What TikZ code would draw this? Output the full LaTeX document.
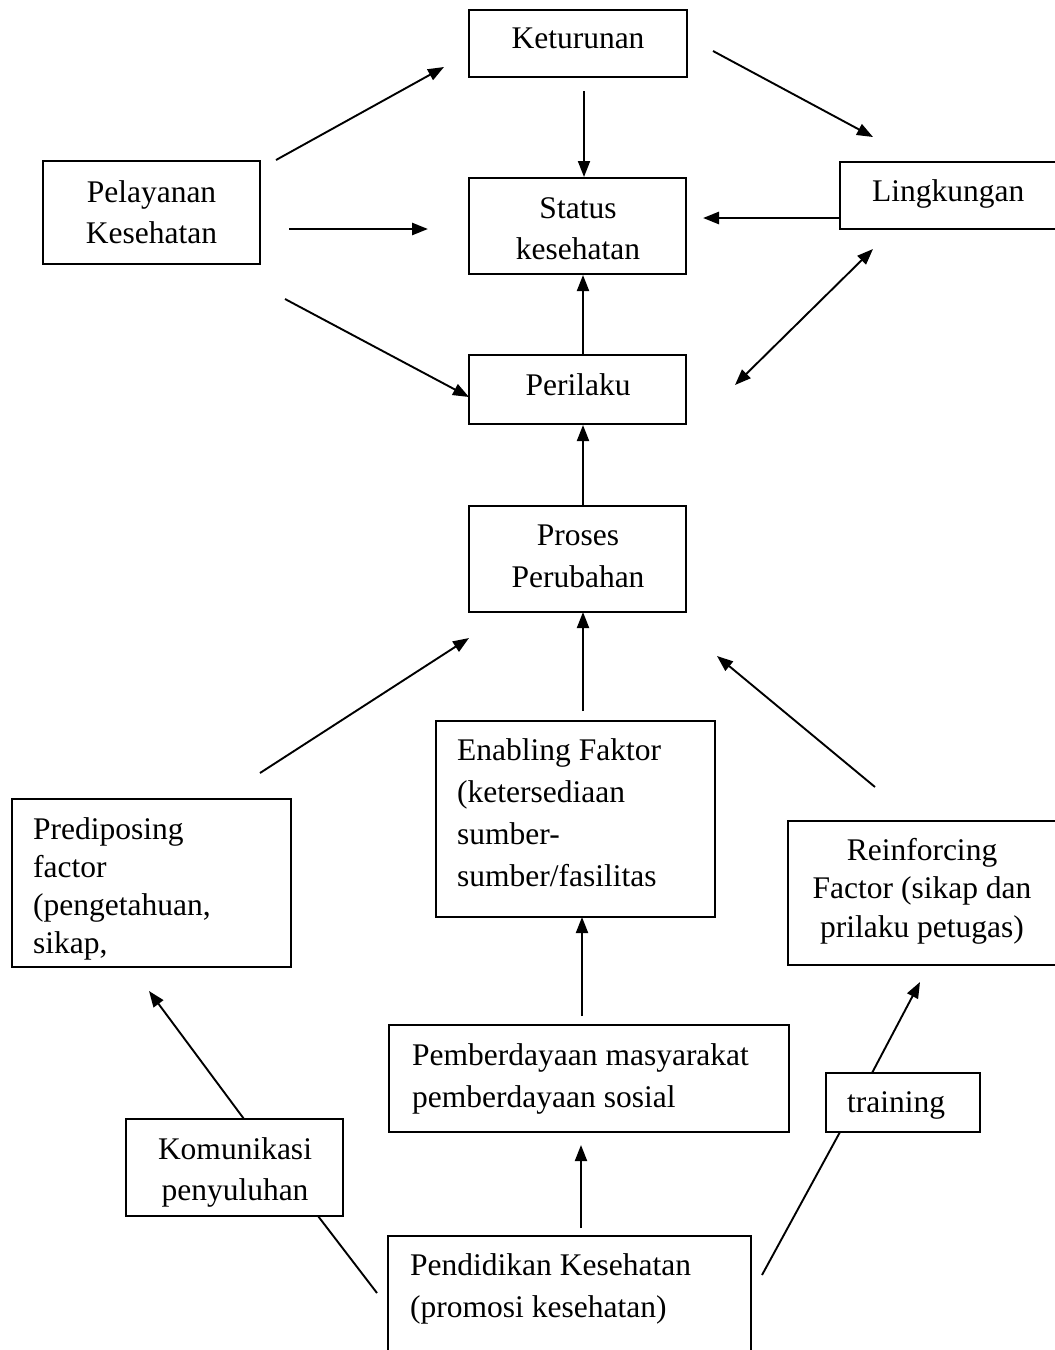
\documentclass[tikz,border=0pt]{standalone}
\usepackage{fontspec}
\setmainfont{Liberation Serif}
\usetikzlibrary{arrows.meta}
\begin{document}
\begin{tikzpicture}[x=1pt,y=-1pt,
  box/.style={draw, line width=1.5pt, inner sep=0pt, outer sep=0pt},
  txt/.style={inner sep=0pt, font=\fontsize{31.5}{41}\selectfont},
  txtb/.style={inner sep=0pt, font=\fontsize{31.5}{38}\selectfont},
  arr/.style={line width=1.9pt, -{Triangle[length=16pt,width=12pt]}},
  arrt/.style={line width=2.6pt, -{Triangle[length=16pt,width=12pt]}},
  dbl/.style={line width=1.9pt, {Triangle[length=16pt,width=12pt]}-{Triangle[length=16pt,width=12pt]}},
  ln/.style={line width=1.9pt}]
\useasboundingbox (0,0) rectangle (1055,1350);
% boxes
\node[box, minimum width=218pt, minimum height=67pt] (ket) at (578,43.5) {};
\node[box, minimum width=217pt, minimum height=103pt] (pel) at (151.5,212.5) {};
\node[box, minimum width=217pt, minimum height=96pt] (sta) at (577.5,226) {};
\node[box, minimum width=230pt, minimum height=67pt] (lin) at (955,195.5) {};
\node[box, minimum width=217pt, minimum height=69pt] (per) at (577.5,389.5) {};
\node[box, minimum width=217pt, minimum height=106pt] (pro) at (577.5,559) {};
\node[box, minimum width=279pt, minimum height=196pt] (ena) at (575.5,819) {};
\node[box, minimum width=279pt, minimum height=168pt] (pre) at (151.5,883) {};
\node[box, minimum width=282pt, minimum height=144pt] (rei) at (929,893) {};
\node[box, minimum width=400pt, minimum height=107pt] (pem) at (589,1078.5) {};
\node[box, minimum width=154pt, minimum height=59pt] (tra) at (903,1102.5) {};
\node[box, minimum width=217pt, minimum height=97pt] (kom) at (234.5,1167.5) {};
\node[box, minimum width=363pt, minimum height=134pt] (pen) at (569.5,1303) {};
% texts (anchor=base is the baseline of the last line)
\node[txt, anchor=base] (tket) at (578,48) {Keturunan};
\node[txt, anchor=base, align=center] (tpel) at (151.5,243) {Pelayanan\\Kesehatan};
\node[txt, anchor=base, align=center] (tsta) at (578,259) {Status\\kesehatan};
\node[txt, anchor=base west] (tlin) at (872,201) {Lingkungan};
\node[txt, anchor=base] (tper) at (578,395) {Perilaku};
\node[txt, anchor=base, align=center, font=\fontsize{31.5}{42}\selectfont] (tpro) at (578,587) {Proses\\Perubahan};
\node[txt, anchor=base west, align=left, font=\fontsize{31.5}{42}\selectfont] (tena) at (457,886) {Enabling Faktor\\(ketersediaan\\sumber-\\sumber/fasilitas};
\node[txtb, anchor=base west, align=left, font=\fontsize{31.5}{37.7}\selectfont] (tpre) at (33,953) {Prediposing\\factor\\(pengetahuan,\\sikap,};
\node[txtb, anchor=base, align=center, font=\fontsize{31.5}{38.5}\selectfont] (trei) at (922,937) {Reinforcing\\Factor (sikap dan\\prilaku petugas)};
\node[txt, anchor=base west, align=left, font=\fontsize{31.5}{42}\selectfont] (tpem) at (412,1107) {Pemberdayaan masyarakat\\pemberdayaan sosial};
\node[txt, anchor=base] (ttra) at (896,1112) {training};
\node[txt, anchor=base, align=center] (tkom) at (235,1200) {Komunikasi\\penyuluhan};
\node[txt, anchor=base west, align=left, font=\fontsize{31.5}{42}\selectfont] (tpen) at (410,1317) {Pendidikan Kesehatan\\(promosi kesehatan)};
% connector ends
\coordinate (a1s) at (276,160); \coordinate (a1e) at (444,67);
\coordinate (a2s) at (584,91);  \coordinate (a2e) at (584,177);
\coordinate (a3s) at (713,51);  \coordinate (a3e) at (873,137);
\coordinate (a4s) at (289,229); \coordinate (a4e) at (428,229);
\coordinate (a5s) at (840,218); \coordinate (a5e) at (703,218);
\coordinate (a6s) at (583,355); \coordinate (a6e) at (583,275);
\coordinate (a7s) at (285,299); \coordinate (a7e) at (469,397);
\coordinate (a8s) at (873,249); \coordinate (a8e) at (735,385);
\coordinate (a9s) at (583,506); \coordinate (a9e) at (583,425);
\coordinate (b1s) at (583,711); \coordinate (b1e) at (583,612);
\coordinate (b2s) at (260,773); \coordinate (b2e) at (469,638);
\coordinate (b3s) at (875,787); \coordinate (b3e) at (717,656);
\coordinate (b4s) at (244,1119); \coordinate (b4e) at (149,991);
\coordinate (b5s) at (582,1016); \coordinate (b5e) at (582,917);
\coordinate (b6s) at (581,1228); \coordinate (b6e) at (581,1145);
\coordinate (b7s) at (872,1073); \coordinate (b7e) at (920,982);
\coordinate (c1s) at (318,1216); \coordinate (c1e) at (377,1293);
\coordinate (c2s) at (840,1132); \coordinate (c2e) at (762,1275);
% connectors
\draw[arr] (a1s) -- (a1e);
\draw[arr] (a2s) -- (a2e);
\draw[arr] (a3s) -- (a3e);
\draw[arrt] (a4s) -- (a4e);
\draw[arrt] (a5s) -- (a5e);
\draw[arr] (a6s) -- (a6e);
\draw[arr] (a7s) -- (a7e);
\draw[dbl] (a8s) -- (a8e);
\draw[arr] (a9s) -- (a9e);
\draw[arr] (b1s) -- (b1e);
\draw[arr] (b2s) -- (b2e);
\draw[arr] (b3s) -- (b3e);
\draw[arr] (b4s) -- (b4e);
\draw[arr] (b5s) -- (b5e);
\draw[arr] (b6s) -- (b6e);
\draw[arr] (b7s) -- (b7e);
\draw[ln] (c1s) -- (c1e);
\draw[ln] (c2s) -- (c2e);
\end{tikzpicture}
\end{document}
